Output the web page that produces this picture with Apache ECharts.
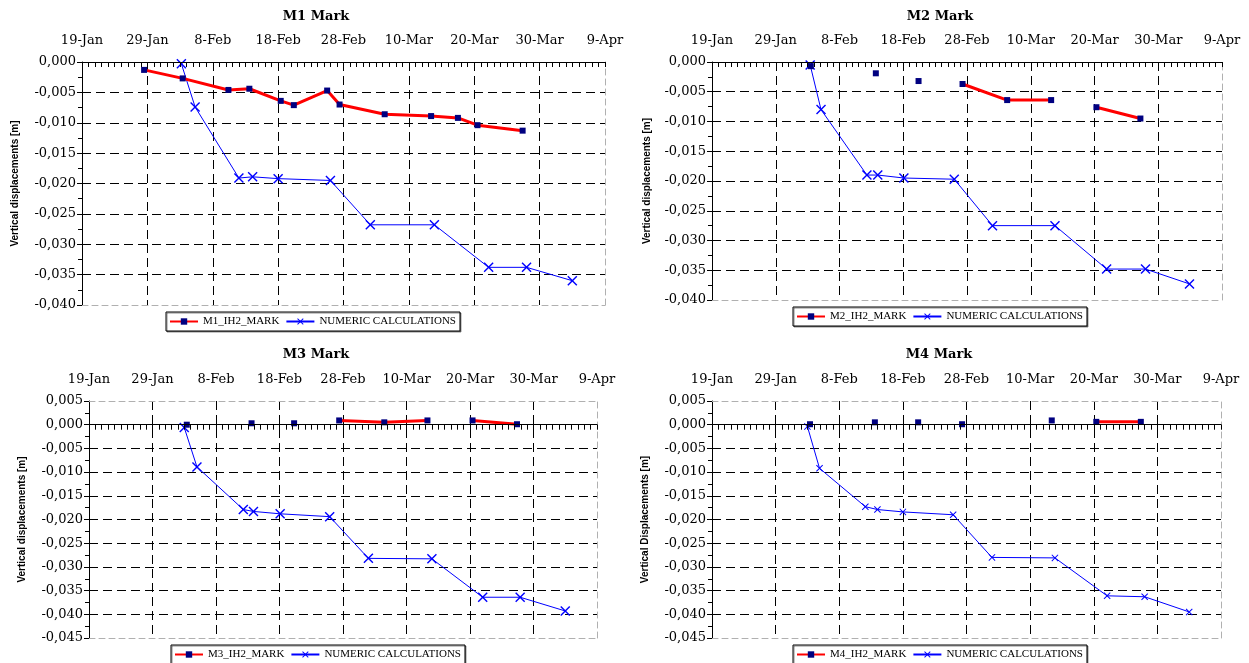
<!DOCTYPE html>
<html><head><meta charset="utf-8">
<script src="https://cdn.jsdelivr.net/npm/echarts@6/dist/echarts.min.js"></script>
<style>html,body{margin:0;padding:0;background:#fff}#c{width:1249px;height:663px}</style>
</head><body><div id="c"></div>
<script>
// ---- data (x = days after 19-Jan) ----
const dateLabels = ['19-Jan','29-Jan','8-Feb','18-Feb','28-Feb','10-Mar','20-Mar','30-Mar','9-Apr'];
const numName = 'NUMERIC CALCULATIONS';

const m1MeasDays = [9.5, 15.4, 22.4, 25.6, 30.4, 32.4, 37.5, 39.4, 46.3, 53.4, 57.5, 60.5, 67.4];
const m1MeasVals = [-0.0013, -0.0027, -0.0046, -0.0044, -0.0064, -0.0071, -0.0047, -0.0070, -0.0086, -0.0089, -0.0092, -0.0104, -0.0113];
const m1NumDays  = [15.2, 17.3, 24.0, 26.1, 30.0, 38.0, 44.1, 53.9, 62.2, 68.0, 75.0];
const m1NumVals  = [-0.0003, -0.0074, -0.0191, -0.0189, -0.0192, -0.0195, -0.0268, -0.0268, -0.0338, -0.0338, -0.0360];

const m2MeasDays = [15.5, null, 25.7, null, 32.4, null, 39.3, 46.3, 53.2, null, 60.3, 67.2];
const m2MeasVals = [-0.0007, null, -0.0019, null, -0.0032, null, -0.0037, -0.0064, -0.0064, null, -0.0076, -0.0095];
const m2NumDays  = [15.4, 17.1, 24.3, 26.0, 30.1, 38.0, 44.0, 53.8, 61.9, 68.0, 74.9];
const m2NumVals  = [-0.0005, -0.0080, -0.0190, -0.0190, -0.0195, -0.0197, -0.0275, -0.0275, -0.0348, -0.0348, -0.0373];

const m3MeasDays = [15.4, null, 25.6, null, 32.3, null, 39.4, 46.5, 53.3, null, 60.4, 67.4];
const m3MeasVals = [0.0000, null, 0.0003, null, 0.0003, null, 0.0009, 0.0005, 0.0009, null, 0.0009, 0.0001];
const m3NumDays  = [15.0, 17.0, 24.3, 25.9, 30.1, 37.9, 44.0, 54.0, 62.0, 67.9, 75.0];
const m3NumVals  = [-0.0006, -0.0089, -0.0179, -0.0183, -0.0188, -0.0194, -0.0282, -0.0283, -0.0364, -0.0364, -0.0393];

const m4MeasDays = [15.4, null, 25.6, null, 32.4, null, 39.3, null, 53.4, null, 60.4, 67.4];
const m4MeasVals = [0.0001, null, 0.0005, null, 0.0005, null, 0.0001, null, 0.0009, null, 0.0006, 0.0006];
const m4NumDays  = [15.0, 16.9, 24.1, 26.0, 30.0, 37.9, 44.0, 53.9, 62.1, 68.0, 75.0];
const m4NumVals  = [-0.0004, -0.0092, -0.0173, -0.0179, -0.0184, -0.0190, -0.0280, -0.0281, -0.0361, -0.0363, -0.0395];

// ---- layout ----
const panels = [
  {title:'M1 Mark', meas:'M1_IH2_MARK', md:m1MeasDays, mv:m1MeasVals, nd:m1NumDays, nv:m1NumVals, yMin:-0.04, yMax:0,
   yName:'Vertical displacements [m]', grid:{left:82, top:62, width:523, height:243}, tx:316, ty:10, lg:{left:166, top:312}, nameGap:62, xs:10},
  {title:'M2 Mark', meas:'M2_IH2_MARK', md:m2MeasDays, mv:m2MeasVals, nd:m2NumDays, nv:m2NumVals, yMin:-0.04, yMax:0,
   yName:'Vertical displacements [m]', grid:{left:712, top:62, width:510, height:238}, tx:940, ty:10, lg:{left:793, top:307}, nameGap:60, xs:10},
  {title:'M3 Mark', meas:'M3_IH2_MARK', md:m3MeasDays, mv:m3MeasVals, nd:m3NumDays, nv:m3NumVals, yMin:-0.045, yMax:0.005,
   yName:'Vertical displacements [m]', grid:{left:89, top:401, width:508, height:237}, tx:316, ty:348, lg:{left:171, top:645}, nameGap:62, xs:10},
  {title:'M4 Mark', meas:'M4_IH2_MARK', md:m4MeasDays, mv:m4MeasVals, nd:m4NumDays, nv:m4NumVals, yMin:-0.045, yMax:0.005,
   yName:'Vertical Displacements [m]', grid:{left:712, top:401, width:509, height:237}, tx:939, ty:348, lg:{left:793, top:645}, nameGap:62, xs:7}
];

const xPath = 'path://M0,1L1,0L5,4L9,0L10,1L6,5L10,9L9,10L5,6L1,10L0,9L4,5Z';
const fmtY = v => { if (Math.abs(v) < 1e-9) v = 0; return v.toFixed(3).replace('.', ','); };
const fmtX = v => dateLabels[Math.round(v / 10)] || '';
const serif = 'DejaVu Serif';
const dash = [9, 5];
const greyDash = {color:'#b0b0b0', type:[6,4], width:1};

function pairs(days, vals) {
  const out = [];
  for (let i = 0; i < days.length; i++) {
    if (vals[i] == null) {
      const a = days[i-1], b = days[i+1];
      out.push([(a + b) / 2, '-']);
    } else out.push([days[i], vals[i]]);
  }
  return out;
}

const option = {animation:false, backgroundColor:'#fff', title:[], legend:[], grid:[], xAxis:[], yAxis:[], series:[]};
panels.forEach((p, i) => {
  option.grid.push(Object.assign({show:false}, p.grid));
  option.title.push({text:p.title, left:p.tx, top:p.ty, textAlign:'center', padding:0,
    textStyle:{fontFamily:serif, fontWeight:'bold', fontSize:13, color:'#000'}});
  const yi = option.yAxis.length, xi = option.xAxis.length;
  option.yAxis.push({gridIndex:i, type:'value', position:'left', min:p.yMin, max:p.yMax, interval:0.005,
    name:p.yName, nameLocation:'middle', nameGap:p.nameGap,
    nameTextStyle:{fontFamily:'Liberation Sans', fontWeight:'bold', fontSize:10, color:'#000'},
    axisLine:{show:true, onZero:false, lineStyle:{color:'#000', width:1}},
    axisTick:{show:true, length:5, lineStyle:{color:'#000'}},
    minorTick:{show:true, splitNumber:2, length:4, lineStyle:{color:'#000'}},
    axisLabel:{margin:6, formatter:fmtY, fontFamily:serif, fontSize:13, color:'#000'},
    splitLine:{show:true, showMinLine:false, showMaxLine:false, lineStyle:{color:'#000', type:dash, width:1}}});
  option.yAxis.push({gridIndex:i, type:'value', position:'right', min:p.yMin, max:p.yMax, interval:0.005,
    axisLine:{show:true, onZero:false, lineStyle:greyDash}, axisTick:{show:false}, axisLabel:{show:false}, splitLine:{show:false}});
  // top axis with date labels + vertical grid
  option.xAxis.push({gridIndex:i, type:'value', position:'top', min:0, max:80, interval:10,
    axisLine:{show:true, onZero:false, lineStyle:greyDash}, axisTick:{show:false},
    axisLabel:{margin:15, formatter:fmtX, fontFamily:serif, fontSize:13, color:'#000', showMaxLabel:true, showMinLabel:true},
    splitLine:{show:true, showMinLine:false, showMaxLine:false, lineStyle:{color:'#000', type:dash, width:1}}});
  // zero line with daily ticks
  option.xAxis.push({gridIndex:i, type:'value', position:'top', min:0, max:80, interval:10, z:5,
    axisLine:{show:true, onZero:true, onZeroAxisIndex:yi, lineStyle:{color:'#000', width:1}},
    axisTick:{show:true, inside:true, length:5, lineStyle:{color:'#000'}},
    minorTick:{show:true, splitNumber:10, length:5, lineStyle:{color:'#000'}},
    axisLabel:{show:false}, splitLine:{show:false}});
  // bottom border
  option.xAxis.push({gridIndex:i, type:'value', position:'bottom', min:0, max:80, interval:10,
    axisLine:{show:true, onZero:false, lineStyle:greyDash}, axisTick:{show:false}, axisLabel:{show:false}, splitLine:{show:false}});

  option.series.push({name:p.meas, type:'line', xAxisIndex:xi, yAxisIndex:yi, data:pairs(p.md, p.mv),
    connectNulls:false, symbol:'rect', symbolSize:6, showAllSymbol:true, z:4,
    lineStyle:{color:'#ff0000', width:3}, itemStyle:{color:'#000080'}});
  option.series.push({name:numName, type:'line', xAxisIndex:xi, yAxisIndex:yi, data:pairs(p.nd, p.nv),
    symbol:xPath, symbolSize:p.xs, showAllSymbol:true, z:3,
    lineStyle:{color:'#0000ff', width:1}, itemStyle:{color:'#0000ff'}});

  option.legend.push({left:p.lg.left, top:p.lg.top, orient:'horizontal', data:[p.meas, numName],
    selectedMode:false, itemWidth:28, itemHeight:8, itemGap:6, padding:[4,4,4,3],
    borderColor:'#000', borderWidth:1, backgroundColor:'#fff',
    shadowColor:'rgba(0,0,0,0.45)', shadowOffsetX:1, shadowOffsetY:1, shadowBlur:0,
    textStyle:{fontFamily:'Liberation Serif', fontSize:11, color:'#000'}});
});

const chart = echarts.init(document.getElementById('c'), null, {renderer:'canvas'});
chart.setOption(option);
</script></body></html>
